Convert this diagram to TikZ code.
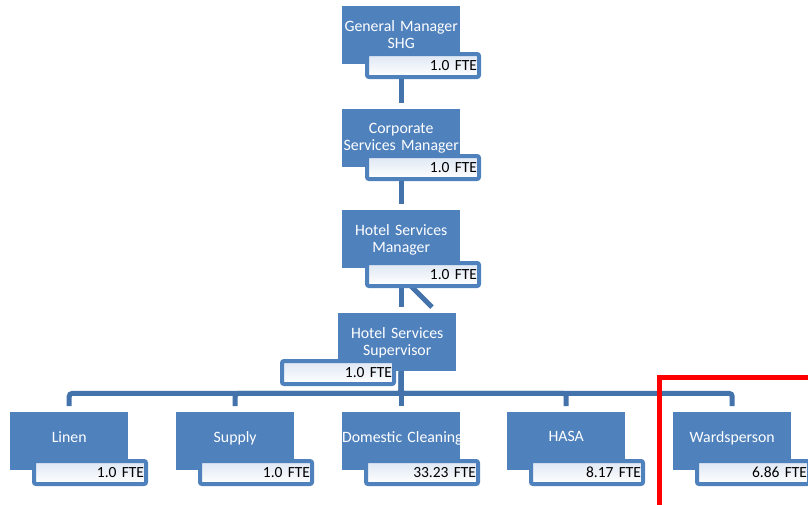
\documentclass[tikz,border=0pt]{standalone}
\usepackage{fontspec}
\setmainfont{Carlito}
\usetikzlibrary{calc}
\definecolor{boxblue}{RGB}{79,129,189}
\definecolor{lineblue}{RGB}{68,114,170}
\definecolor{fteshade}{RGB}{222,231,243}

\begin{document}
\begin{tikzpicture}[x=1pt, y=-1pt, twoline/.style={text depth=19pt}]
		\useasboundingbox (0,0) rectangle (808,504);
		\begin{scope}[every node/.style={fill=boxblue, minimum width=118pt, minimum height=58pt, text width=118pt, inner sep=0pt, text depth=9pt, anchor=north west, text=white, align=center, font=\fontsize{15.8}{17}\selectfont}]
		\node[twoline] (gm) at (342,6) {General Manager\\SHG};
		\node[twoline] (csm) at (342,109) {Corporate\\Services Manager};
		\node[twoline] (hsm) at (342,210) {Hotel Services\\Manager};
		\node[twoline] (hss) at (338,313) {Hotel Services\\Supervisor};
		\node (linen) at (10,412) {Linen};
		\node (supply) at (176,412) {Supply};
		\node (dom) at (342,412) {\mbox{Domestic Cleaning}};
		\node (hasa) at (507,412) {HASA};
		\node (ward) at (673,412) {Wardsperson};
		\end{scope}
		
		\begin{scope}[every path/.style={draw=lineblue, line width=5pt, shorten >=6pt}]
		\draw (gm.south) -- (csm.north);
		\draw (csm.south) -- (hsm.north);
		\draw (hsm.south) -- (hsm.south |- hss.north);
		\draw ($(hsm.south)+(0,8)$) -- ++(35,35);
		\foreach \c in {linen,supply,dom,hasa,ward}
			\draw[rounded corners=3pt] (dom.north |- hss.south) -- ++(0,22) -| (\c.north);
		\end{scope}
		
		\begin{scope}[every node/.style={draw=boxblue, line width=4pt, rounded corners=2pt, top color=fteshade, bottom color=white, minimum width=112pt, minimum height=23pt, text width=108pt, inner sep=2pt, anchor=north west, align=right, font=\fontsize{15.5}{17}\selectfont}]
		\node (gmf) at ($(gm.north west)+(23,46)$) {1.0 FTE};
		\node (csmf) at ($(csm.north west)+(23,45)$) {1.0 FTE};
		\node (hsmf) at ($(hsm.north west)+(23,51)$) {1.0 FTE};
		\node (hssf) at ($(hss.north west)+(-58,46)$) {1.0 FTE};
		\node (linenf) at ($(linen.north west)+(22,47)$) {1.0 FTE};
		\node (supplyf) at ($(supply.north west)+(22,47)$) {1.0 FTE};
		\node (domf) at ($(dom.north west)+(22,47)$) {33.23 FTE};
		\node (hasaf) at ($(hasa.north west)+(22,47)$) {8.17 FTE};
		\node (wardf) at ($(ward.north west)+(22,47)$) {6.86 FTE};
		\end{scope}
		
		\draw[red, line width=5pt] (659.5,520) |- (820,377.5);
		
		\end{tikzpicture}
\end{document}
